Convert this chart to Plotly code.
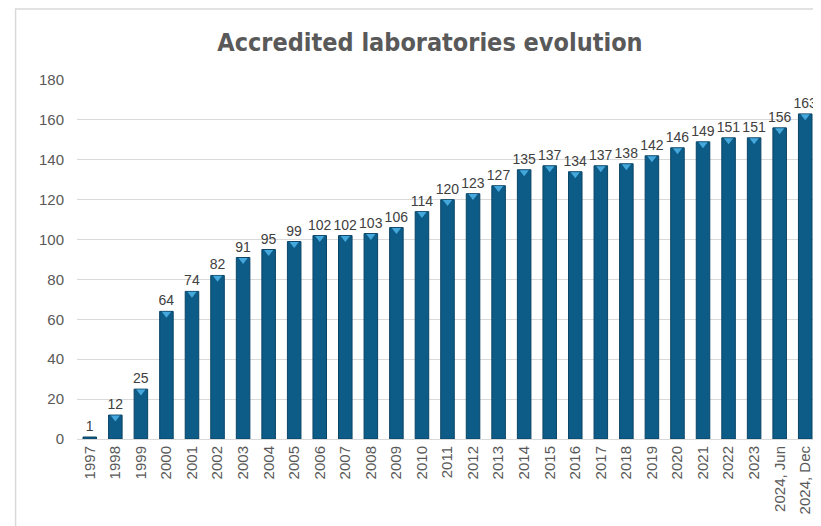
import plotly.graph_objects as go

categories = ["1997", "1998", "1999", "2000", "2001", "2002", "2003", "2004", "2005",
              "2006", "2007", "2008", "2009", "2010", "2011", "2012", "2013", "2014",
              "2015", "2016", "2017", "2018", "2019", "2020", "2021", "2022", "2023",
              "2024, Jun", "2024, Dec"]
values = [1, 12, 25, 64, 74, 82, 91, 95, 99, 102, 102, 103, 106, 114, 120, 123, 127,
          135, 137, 134, 137, 138, 142, 146, 149, 151, 151, 156, 163]
y_ticks = [0, 20, 40, 60, 80, 100, 120, 140, 160, 180]

fig = go.Figure()
fig.add_trace(go.Bar(
    x=categories, y=values,
    marker=dict(color="#0d5c87", line=dict(color="#0a4466", width=1)),
    text=[str(v) for v in values], textposition="outside", constraintext="none",
    textfont=dict(size=14, color="#404040", family="Liberation Sans, Arial"),
    cliponaxis=False, showlegend=False,
))
# light bevel highlight at the top of each bar
tops = [(c, v - 1.2) for c, v in zip(categories, values) if v >= 5]
fig.add_trace(go.Scatter(
    x=[t[0] for t in tops], y=[t[1] for t in tops], mode="markers",
    marker=dict(symbol="triangle-down", size=8, color="#45a8dc", line=dict(width=0)),
    hoverinfo="skip", showlegend=False,
))

fig.update_layout(
    width=813, height=518,
    margin=dict(l=69, r=3, t=72, b=87),
    paper_bgcolor="white", plot_bgcolor="white",
    bargap=0.47,
    title=dict(text="<b>Accredited laboratories evolution</b>", x=0.519, xanchor="center",
               y=0.934, yanchor="middle",
               font=dict(size=25, color="#595959",
                         family="Liberation Sans Narrow, DejaVu Sans Condensed, Arial Narrow, sans-serif")),
    font=dict(family="Liberation Sans, Arial", color="#595959"),
    xaxis=dict(type="category", range=[-0.5, len(categories) - 0.5], tickangle=-90,
               tickfont=dict(size=15, color="#595959"),
               showgrid=False, showline=True, linecolor="#d9d9d9", linewidth=1, ticks=""),
    yaxis=dict(range=[0, 180], tickvals=y_ticks, tickfont=dict(size=15, color="#595959"),
               gridcolor="#d9d9d9", gridwidth=1, zeroline=False, showline=False, ticks="",
               ticklabelstandoff=12),
    shapes=[dict(type="rect", xref="paper", yref="paper",
                 x0=-0.0829, x1=1.2, y0=-0.6, y1=1.1978,
                 line=dict(color="#d9d9d9", width=1.5), layer="below")],
)

fig.write_html("out.html")
